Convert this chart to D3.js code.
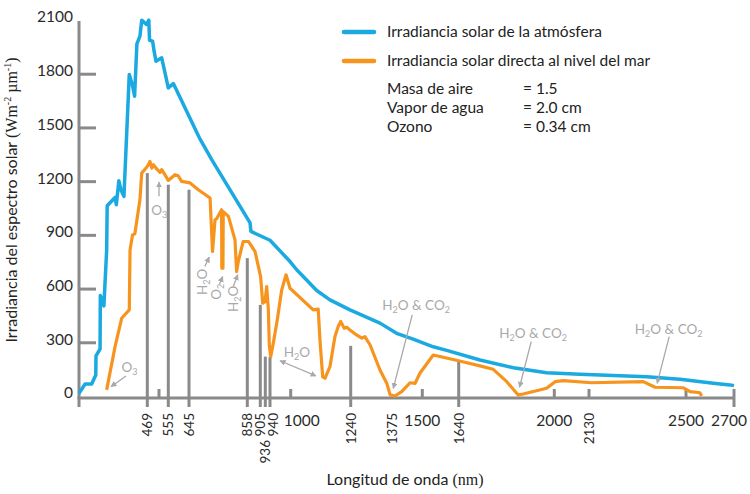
<!DOCTYPE html>
<meta charset="utf-8">
<script src="https://d3js.org/d3.v7.min.js"></script>
<style>
  body { margin: 0; background: #fff; }
  svg { font-family: Lato, "Open Sans", sans-serif; display: block; }
  .axis-line { stroke: #8a8a8a; stroke-width: 3; }
  .tick-label { font-size: 15.5px; fill: #2a2a2a; }
  .rot-label { font-size: 13.5px; fill: #2a2a2a; }
  .note { fill: #a9a9a9; font-size: 13.5px; }
  .note-arrow { stroke: #a9a9a9; stroke-width: 1.3; fill: none; }
  .legend text { font-size: 15.5px; fill: #222; }
</style>
<body>
<script>

// irradiancia fuera de la atmosfera [nm, W m-2 um-1]
var atmosphere = [
  [200,15],[224,67],[250,67],[266,117],[267,224],[283,263],[284,561],[298,503],
  [309,816],[311,1063],[342,1109],[347,1068],[357,1202],[365,1152],[377,1115],
  [398,1795],[410,1739],[419,1674],[428,1967],[440,2010],[447,2099],[466,2075],
  [473,2099],[475,1987],[483,1982],[487,1926],[492,1870],[516,1889],[555,1721],
  [577,1745],[685,1436],[728,1320],[868,967],[871,919],[940,870],[998,751],
  [1024,705],[1104,589],[1157,537],[1237,481],[1335,407],[1393,350],[1462,318],
  [1542,275],[1594,255],[1720,201],[1846,158],[1971,130],[2096,121],[2223,114],
  [2350,108],[2477,93],[2614,71],[2683,62],[2700,58]
];

// irradiancia directa al nivel del mar
var seaLevel = [
  [309,34],[342,276],[368,434],[398,481],[401,816],[411,900],[420,906],[440,1096],
  [447,1245],[464,1273],[472,1292],[476,1310],[481,1273],[485,1292],[494,1268],
  [506,1249],[516,1264],[535,1236],[555,1204],[584,1236],[598,1230],[613,1199],
  [649,1190],[679,1152],[722,1106],[731,807],[740,984],[746,990],[764,1040],
  [765,714],[769,714],[770,1030],[789,1003],[813,872],[819,695],[825,751],
  [843,863],[862,863],[886,807],[907,667],[920,518],[934,527],[937.2,611],
  [938.6,481],[939.4,285],[942,220],[949.6,295],[961,425],[974,593],[986.5,677],
  [998,602],[1090,481],[1110,485],[1117,313],[1128,107],[1137,99],[1157,164],
  [1177,332],[1190,388],[1200,416],[1214,379],[1224,384],[1237,369],[1259,341],
  [1276,323],[1286,332],[1303,285],[1335,145],[1357,71],[1368,6],[1386,0],
  [1414,24],[1449,74],[1470,71],[1490,127],[1542,229],[1639,197],[1720,168],
  [1770,149],[1821,80],[1864,6],[1883,11],[1971,43],[2003,80],[2034,86],
  [2140,74],[2337,80],[2382,49],[2490,46],[2517,24],[2558,18],[2565,0]
];

// bandas marcadas con linea vertical: [nm, altura]
var bandLines = [[469,1245],[555,1180],[645,1152],[858,770],[905,509],[936,220],[940,218],[1240,280],[1640,192]];
var minorTicks = [500, 1000, 1500, 2000, 2130, 2500, 2700];
var rotatedLabels = [469, 555, 645, 858, 905, 936, 940, 1240, 1375, 1640, 2130];
var flatLabels = [1000, 1500, 2000, 2500, 2700];
var yTicks = [0, 300, 600, 900, 1200, 1500, 1800, 2100];

var legendItems = ["Irradiancia solar de la atmósfera", "Irradiancia solar directa al nivel del mar"];
var conditionNames = ["Masa de aire", "Vapor de agua", "Ozono"];
var conditionValues = ["= 1.5", "= 2.0 cm", "= 0.34 cm"];

// anotaciones: texto, posicion [nm, valor], flecha desde -> hasta
var notes = [
  {t: "O3", at: [399, 162], from: [385, 112], to: [326, 52]},
  {t: "O3", at: [501, 1040], from: [500, 1115], to: [500, 1195]},
  {t: "H2O", at: [691, 638], rot: true, from: [703, 723], to: [719, 776]},
  {t: "O2", at: [744, 582], rot: true, from: [756, 621], to: [768, 667]},
  {t: "H2O", at: [805, 543], rot: true, from: [807, 612], to: [823, 677]},
  {t: "H2O", at: [1025, 246], from: [969, 197], to: [1101, 112], both: true},
  {t: "H2O & CO2", at: [1474, 509], from: [1458, 453], to: [1379, 43]},
  {t: "H2O & CO2", at: [1920, 351], from: [1913, 304], to: [1869, 49]},
  {t: "H2O & CO2", at: [2434, 373], from: [2436, 332], to: [2390, 71]}
];

var margin = {top: 20, right: 16, bottom: 96, left: 79};
var width = 750 - margin.left - margin.right,
    height = 494 - margin.top - margin.bottom;

var svg = d3.select("body").append("svg")
    .attr("width", 750)
    .attr("height", 494);

var defs = svg.append("defs");
defs.append("marker")
    .attr("id", "arr")
    .attr("viewBox", "0 0 10 10")
    .attr("refX", 9).attr("refY", 5)
    .attr("markerWidth", 6).attr("markerHeight", 6)
    .attr("markerUnits", "userSpaceOnUse")
    .attr("orient", "auto-start-reverse")
  .append("path")
    .attr("d", "M0,0 L10,5 L0,10 z")
    .style("fill", "#a9a9a9");

var g = svg.append("g")
    .attr("transform", "translate(" + margin.left + "," + margin.top + ")");

// el eje horizontal del original no es uniforme: escala por tramos
var x = d3.scaleLinear()
  .domain([200, 469, 500, 555, 645, 858, 905, 936, 940, 1000, 1240, 1375, 1500, 1640, 2000, 2130, 2500, 2700])
  .range([0, 68.3, 80, 89.3, 110, 168.3, 181.3, 186.3, 191, 211.7, 271.7, 313.3, 343.3, 379.7, 475.3, 510, 607, 655]);

var y = d3.scaleLinear()
  .domain([0, 2100])
  .range([376, 0]);

var base = y(0) + 2;

// y axis
var yAxis = d3.axisLeft(y)
  .tickValues(yTicks)
  .tickSize(-17)
  .tickPadding(6)
  .tickFormat(d3.format("d"));

var ya = g.append("g").call(yAxis);
ya.select(".domain").remove();
ya.selectAll(".tick line")
  .attr("class", "axis-line")
  .style("display", function(d) { return (d == 0 || d == 2100) ? "none" : null; });
ya.selectAll(".tick text")
  .attr("class", "tick-label")
  .attr("dy", "0.12em")
  .style("font-family", "Lato, sans-serif");

g.append("line").attr("class", "axis-line")
  .attr("x1", 0).attr("x2", 0).attr("y1", 1).attr("y2", base + 9);
g.append("line").attr("class", "axis-line")
  .attr("x1", -1.5).attr("x2", x(2700)).attr("y1", base).attr("y2", base);

// vertical band lines
g.selectAll(".band").data(bandLines).enter().append("line")
  .attr("class", "axis-line band")
  .attr("x1", function(d) { return x(d[0]); })
  .attr("x2", function(d) { return x(d[0]); })
  .attr("y1", function(d) { return y(d[1]); })
  .attr("y2", base + 9);

g.selectAll(".minor").data(minorTicks).enter().append("line")
  .attr("class", "axis-line minor")
  .attr("x1", function(d) { return x(d); })
  .attr("x2", function(d) { return x(d); })
  .attr("y1", base - 9)
  .attr("y2", function(d) { return d == 2700 ? base + 9 : base; });

// labels under the axis
g.selectAll(".rot-label").data(rotatedLabels).enter().append("text")
  .attr("class", "rot-label")
  .attr("text-anchor", "end")
  .attr("dy", "0.36em")
  .attr("transform", function(d) {
    var top = d == 936 ? base + 42 : base + 15;
    var dx = d == 940 ? 3 : 0;
    return "translate(" + (x(d) + dx) + "," + top + ") rotate(-90)";
  })
  .text(function(d) { return d; });

g.selectAll(".flat-label").data(flatLabels).enter().append("text")
  .attr("class", "tick-label")
  .attr("text-anchor", "middle")
  .attr("x", function(d) { return x(d) + (d == 1000 ? 11 : d == 2700 ? -5 : 0); })
  .attr("y", base + 28)
  .text(function(d) { return d; });

// curves
var line = d3.line()
  .x(function(d) { return x(d[0]); })
  .y(function(d) { return y(d[1]); });

g.append("path").datum(atmosphere)
  .attr("d", line)
  .style("fill", "none")
  .style("stroke", "#1aa9e1")
  .style("stroke-width", 3.5)
  .style("stroke-linejoin", "round");

g.append("path").datum(seaLevel)
  .attr("d", line)
  .style("fill", "none")
  .style("stroke", "#f7941d")
  .style("stroke-width", 3.2)
  .style("stroke-linejoin", "round");

// annotations
function chemText(sel, str) {
  var chars = str.split("");
  var sub = false;
  chars.forEach(function(c) {
    var isDigit = /[0-9]/.test(c);
    var t = sel.append("tspan").text(c);
    if (isDigit && !sub) { t.attr("dy", 3).style("font-size", "9px"); sub = true; }
    else if (!isDigit && sub) { t.attr("dy", -3); sub = false; }
    else if (isDigit) { t.style("font-size", "9px"); }
  });
}

notes.forEach(function(n) {
  var tx = x(n.at[0]), ty = y(n.at[1]);
  var txt = g.append("text")
    .attr("class", "note")
    .attr("text-anchor", "middle")
    .attr("transform", "translate(" + tx + "," + ty + ")" + (n.rot ? " rotate(-90)" : ""))
    .attr("y", 5);
  chemText(txt, n.t);
  var a = g.append("line")
    .attr("class", "note-arrow")
    .attr("x1", x(n.from[0])).attr("y1", y(n.from[1]))
    .attr("x2", x(n.to[0])).attr("y2", y(n.to[1]))
    .attr("marker-end", "url(#arr)");
  if (n.both) a.attr("marker-start", "url(#arr)");
});

// axis titles
var yt = svg.append("text")
  .attr("transform", "translate(17,200) rotate(-90)")
  .attr("text-anchor", "middle")
  .style("font-size", "16px")
  .style("fill", "#222");
yt.append("tspan").text("Irradiancia del espectro solar ");
var serif = "'Liberation Serif', 'DejaVu Serif', serif";
yt.append("tspan").style("font-family", serif).text("(Wm");
yt.append("tspan").style("font-family", serif).style("font-size", "10px").attr("dy", -6).text("-2");
yt.append("tspan").style("font-family", serif).attr("dy", 6).text(" µm");
yt.append("tspan").style("font-family", serif).style("font-size", "10px").attr("dy", -6).text("-1");
yt.append("tspan").style("font-family", serif).attr("dy", 6).text(")");

var xt = svg.append("text")
  .attr("x", 405).attr("y", 485)
  .attr("text-anchor", "middle")
  .style("font-size", "16px")
  .style("fill", "#222");
xt.append("tspan").text("Longitud de onda ");
xt.append("tspan").style("font-family", serif).text("(nm)");

// legend
var legend = svg.append("g").attr("class", "legend").attr("transform", "translate(342,32)");
var legendColors = ["#1aa9e1", "#f7941d"];
legendItems.forEach(function(s, i) {
  legend.append("line")
    .attr("x1", 2).attr("x2", 32)
    .attr("y1", i * 29).attr("y2", i * 29)
    .style("stroke", legendColors[i])
    .style("stroke-width", 4.5)
    .style("stroke-linecap", "round");
  legend.append("text")
    .attr("x", 45).attr("y", i * 29)
    .attr("dy", "0.35em")
    .text(s);
});
conditionNames.forEach(function(s, i) {
  legend.append("text")
    .attr("x", 45).attr("y", 57 + i * 19)
    .attr("dy", "0.35em")
    .text(s);
  legend.append("text")
    .attr("x", 181).attr("y", 57 + i * 19)
    .attr("dy", "0.35em")
    .text(conditionValues[i]);
});
</script>
</body>
